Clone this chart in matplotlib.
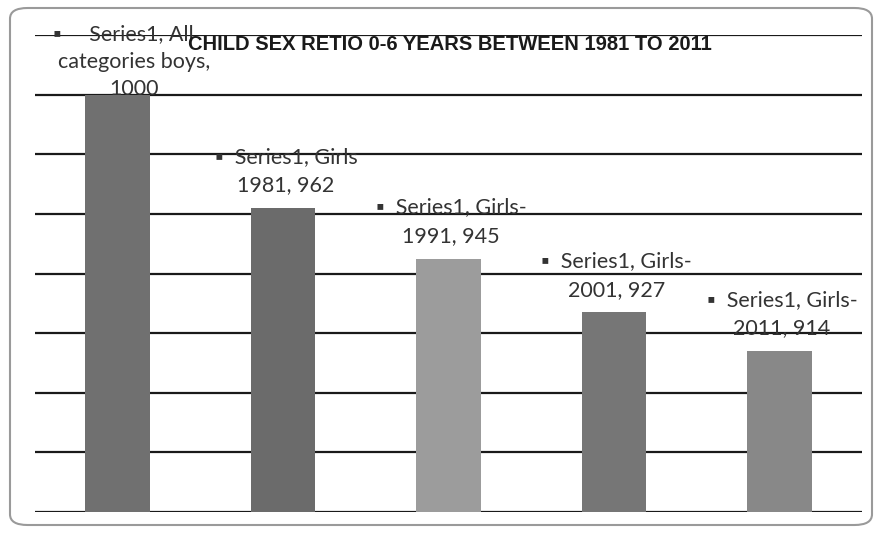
import matplotlib
matplotlib.use("Agg")
from matplotlib import pyplot as plt
from matplotlib.patches import FancyBboxPatch

# data
categories = ["All\ncategories boys", "Girls\n1981", "Girls-\n1991", "Girls-\n2001", "Girls-\n2011"]
values = [1000, 962, 945, 927, 914]
bar_colors = ["#707070", "#6b6b6b", "#9c9c9c", "#767676", "#888888"]
series_name = "Series1"
title = "CHILD SEX RETIO 0-6 YEARS BETWEEN 1981 TO 2011"

plt.rcParams['font.family'] = ['Lato', 'DejaVu Sans']

fig = plt.figure(figsize=(8.79, 5.33), dpi=100)
ax = fig.add_axes([35/879, 1 - 512/533, 827/879, 477/533])

x = list(range(len(values)))
ax.bar(x, values, width=0.39, color=bar_colors, zorder=3)
ax.set_ylim(860, 1020)
ax.set_xlim(-0.5, len(values) - 0.5)
ax.set_yticks(range(860, 1021, 20))
ax.grid(axis='y', color='#1a1a1a', linewidth=1.6, zorder=1)
ax.tick_params(left=False, bottom=False, labelleft=False, labelbottom=False)
for s in ax.spines.values():
  s.set_visible(False)

# data labels, word-wrapped like the original
for i, (cat, v) in enumerate(zip(categories, values)):
  head, tail = cat.split("\n")
  if i == 0:
    txt = f"▪     {series_name}, {head}    \n{tail},\n{v}"
    dx, dy, ls = 12, -3, 1.45
  else:
    txt = f"▪  {series_name}, {head}\n{tail}, {v}"
    dx, dy, ls = 2, 9, 1.55
  ax.annotate(txt, (i, v), xytext=(dx, dy), textcoords='offset points',
              ha='center', va='bottom', fontsize=15.5, color='#333333',
              linespacing=ls, zorder=5, annotation_clip=False)

fig.text(450/879, 1 - 45/533, title, ha='center', va='center',
         fontsize=14.5, fontweight='bold', color='#1a1a1a',
         family=['Liberation Sans Narrow', 'Liberation Sans', 'DejaVu Sans'])

border = FancyBboxPatch((10/879, 8/533), 862/879, 517/533,
                        boxstyle="round,pad=0,rounding_size=0.02",
                        transform=fig.transFigure, fill=False,
                        edgecolor='#9a9a9a', linewidth=1.5)
fig.patches.append(border)

fig.savefig("out.png", dpi=100)
